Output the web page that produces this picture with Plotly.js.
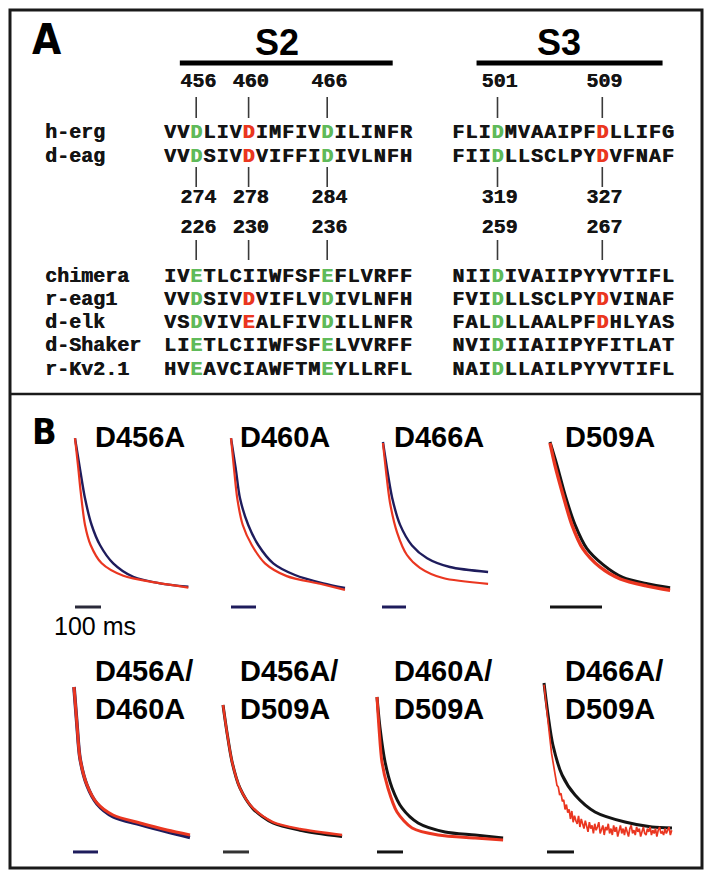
<!DOCTYPE html>
<html><head><meta charset="utf-8">
<script src="https://cdn.plot.ly/plotly-3.0.1.min.js"></script>
<style>html,body{margin:0;padding:0;background:#fff}#chart{width:712px;height:878px}</style>
</head><body><div id="chart"></div>
<script>
// ================= Panel A data =================
const seqNames = ['h-erg','d-eag','chimera','r-eag1','d-elk','d-Shaker','r-Kv2.1'];
const s2Seqs = ['VVDLIVDIMFIVDILINFR','VVDSIVDVIFFIDIVLNFH','IVETLCIIWFSFEFLVRFF','VVDSIVDVIFLVDIVLNFH','VSDVIVEALFIVDILLNFR','LIETLCIIWFSFELVVRFF','HVEAVCIAWFTMEYLLRFL'];
const s3Seqs = ['FLIDMVAAIPFDLLIFG','FIIDLLSCLPYDVFNAF','NIIDIVAIIPYYVTIFL','FVIDLLSCLPYDVINAF','FALDLLAALPFDHLYAS','NVIDIIAIIPYFITLAT','NAIDLLAILPYYVTIFL'];
const hergNums = ['456','460','466','501','509'];
const deagNums = ['274','278','284','319','327'];
const chimNums = ['226','230','236','259','267'];
const markedCols = [2, 6, 12, 25, 33];      // alignment columns of numbered residues
const conservedCols = [2, 12, 25];           // green residues
const variableCols = [6, 33];                // red when acidic (D/E)

// ================= Panel B data (time ms, normalised current) =================
const d456aBlueT = [0,19,38.5,64,96,147,224,327,436];
const d456aBlueI = [0.98,0.79,0.604,0.4375,0.3125,0.198,0.114,0.073,0.052];
const d456aRedT  = [0,12.8,21.8,38.5,60,102.6,186,314,436];
const d456aRedI  = [0.98,0.79,0.646,0.4375,0.3125,0.198,0.12,0.077,0.046];

const d460aBlueT = [0,19,36,69,109,169,256,369,456];
const d460aBlueI = [0.98,0.79,0.604,0.4375,0.3125,0.198,0.125,0.073,0.044];
const d460aRedT  = [0,12,25,47,83,136,223,356,456];
const d460aRedI  = [0.98,0.79,0.604,0.4375,0.3125,0.198,0.118,0.07,0.032];

const d466aBlueT = [4,21,42,75,125,188,283,442];
const d466aBlueI = [0.956,0.79,0.61,0.44,0.31,0.23,0.175,0.144];
const d466aRedT  = [4,17,33,63,104,158,254,442];
const d466aRedI  = [0.95,0.77,0.58,0.39,0.25,0.17,0.106,0.07];

const d509aBlackT = [0,13.5,29,48,71,102,140,187,231];
const d509aBlackI = [0.956,0.81,0.625,0.44,0.29,0.19,0.11,0.07,0.045];
const d509aRedT   = [0,9.6,25,42,63,96,135,187,231];
const d509aRedI   = [0.95,0.81,0.625,0.44,0.29,0.175,0.1,0.056,0.03];

const d456a460aT     = [4,16,28,56,96,160,268,376,468];
const d456a460aRedI  = [0.975,0.7375,0.53,0.3625,0.25,0.175,0.125,0.081,0.05];
const d456a460aBlueI = [0.975,0.7375,0.53,0.36,0.245,0.165,0.115,0.07,0.035];

const d456a509aT      = [0,15,35,65,115,192,296,458];
const d456a509aRedI   = [0.8625,0.694,0.506,0.344,0.219,0.131,0.0875,0.05];
const d456a509aBlackI = [0.8625,0.694,0.506,0.344,0.215,0.125,0.08,0.04];

const d460a509aBlackT = [0,11.5,31,58,96,158,262,377,485];
const d460a509aBlackI = [0.9125,0.72,0.506,0.344,0.219,0.125,0.069,0.05,0.031];
const d460a509aRedT   = [0,7.7,19,42,77,135,235,377,485];
const d460a509aRedI   = [0.9125,0.72,0.506,0.344,0.194,0.094,0.05,0.031,0.019];

const d466a509aBlackT = [0,15,33,67,115,189,300,400,474];
const d466a509aBlackI = [1.0,0.8,0.6125,0.425,0.3,0.194,0.131,0.1,0.094];
const d466a509aRedT = [0,8,15,22,28,33,38,43,48,53,58,63,68,73,78,83,88,93,98,103,108,113,118,123,128,133,138,143,148,153,158,163,168,173,178,183,188,193,198,203,208,213,218,223,228,233,238,243,248,253,258,263,268,273,278,283,288,293,298,303,308,313,318,323,328,333,338,343,348,353,358,363,368,373,378,383,388,393,398,403,408,413,418,423,428,433,438,443,448,453,458,463,468,473];
const d466a509aRedI = [0.99,0.88,0.78,0.65,0.56,0.50,0.44,0.41,0.36,0.35,0.30,0.31,0.26,0.27,0.21,0.24,0.19,0.21,0.15,0.20,0.13,0.17,0.14,0.12,0.17,0.10,0.15,0.12,0.09,0.14,0.11,0.07,0.13,0.09,0.11,0.06,0.12,0.08,0.10,0.13,0.06,0.09,0.11,0.05,0.10,0.08,0.12,0.06,0.09,0.05,0.11,0.07,0.10,0.04,0.08,0.11,0.06,0.09,0.05,0.10,0.07,0.04,0.09,0.11,0.06,0.08,0.05,0.10,0.07,0.09,0.04,0.08,0.10,0.06,0.05,0.09,0.07,0.10,0.05,0.08,0.06,0.09,0.04,0.08,0.10,0.06,0.07,0.05,0.09,0.06,0.08,0.10,0.05,0.08];

const scaleBarMs = 100;

// ================= Styles / layout constants =================
const W = 712, H = 878;
const GREEN = '#5fba5a', RED = '#ea3620', BLUE = '#1e1c5c', BLACK = '#141414';
const MONO = 'Liberation Mono, Courier New, DejaVu Sans Mono, monospace';
const SANS = 'Liberation Sans, Arial, Helvetica, sans-serif';
const NARROW = 'Liberation Sans Narrow, DejaVu Sans Condensed, Arial Narrow, sans-serif';
const COL0 = 170, COLW = 13.1;              // px of column 0 centre, px per column
const S3_OFFSET = 22;                        // column where S3 segment starts
const rowY = [133,157,277,300,323,346,370];  // px rows of sequences
const numRowY = [82,198,228];
const tickSpans = [[97,118],[167,187],[240,260]];
const labelX = -9.54;
const monoFont = (color)=>({family:MONO, size:20, color:color, weight:'bold', shadow:'0.6px 0 0 '+color});

const data = [];
// characters, grouped by colour
const groups = {};
[BLACK, GREEN, RED].forEach(c=>groups[c]={x:[],y:[],t:[]});
seqNames.forEach((n,r)=>{
  const full = s2Seqs[r] + ' '.repeat(S3_OFFSET - s2Seqs[r].length) + s3Seqs[r];
  for (let c=0;c<full.length;c++){
    const ch = full[c]; if (ch===' ') continue;
    let col = BLACK;
    if (conservedCols.includes(c)) col = GREEN;
    else if (variableCols.includes(c) && (ch==='D'||ch==='E')) col = RED;
    groups[col].x.push(c); groups[col].y.push(rowY[r]); groups[col].t.push(ch);
  }
});
Object.keys(groups).forEach(col=>{
  const g = groups[col];
  data.push({x:g.x, y:g.y, text:g.t, mode:'text', textposition:'middle center',
    textfont:monoFont(col), xaxis:'x', yaxis:'y', cliponaxis:false, hoverinfo:'skip'});
});
// names
data.push({x:seqNames.map(()=>labelX), y:rowY, text:seqNames, mode:'text',
  textposition:'middle right', textfont:monoFont(BLACK), xaxis:'x', yaxis:'y', cliponaxis:false, hoverinfo:'skip'});
// residue numbers
[hergNums, deagNums, chimNums].forEach((nums,k)=>{
  data.push({x:markedCols.map(c=>c+0.15), y:nums.map(()=>numRowY[k]), text:nums, mode:'text',
    textposition:'middle center', textfont:monoFont(BLACK), xaxis:'x', yaxis:'y', cliponaxis:false, hoverinfo:'skip'});
});
// tick lines
const tx=[], ty=[];
tickSpans.forEach(sp=>markedCols.forEach(c=>{tx.push(c,c,null); ty.push(sp[0],sp[1],null);}));
data.push({x:tx, y:ty, mode:'lines', line:{color:'#3a3a3a', width:1.6}, xaxis:'x', yaxis:'y', hoverinfo:'skip'});

const layout = {
  width:W, height:H, margin:{l:0,r:0,t:0,b:0}, paper_bgcolor:'#fff', plot_bgcolor:'rgba(0,0,0,0)',
  showlegend:false, hovermode:false,
  xaxis:{domain:[0,1], range:[(0-COL0)/COLW, (W-COL0)/COLW], visible:false, fixedrange:true},
  yaxis:{domain:[1-394/H, 1-10/H], range:[394,10], visible:false, fixedrange:true},
  shapes:[], annotations:[]
};
// border + divider
layout.shapes.push({type:'rect', xref:'paper', yref:'paper', x0:10/W, x1:702/W, y0:1-868/H, y1:1-10/H, line:{color:'#1a1a1a', width:3}});
layout.shapes.push({type:'line', xref:'paper', yref:'paper', x0:10/W, x1:702/W, y0:1-394/H, y1:1-394/H, line:{color:'#1a1a1a', width:2.5}});
// S2 / S3 bars
layout.shapes.push({type:'line', xref:'x', yref:'y', x0:0.75, x1:17.0, y0:63, y1:63, line:{color:'#000', width:5}});
layout.shapes.push({type:'line', xref:'x', yref:'y', x0:23.4, x1:37.6, y0:63, y1:63, line:{color:'#000', width:5}});
layout.annotations.push({xref:'x', yref:'y', x:8.2, y:43, text:'<b>S2</b>', showarrow:false, font:{family:SANS, size:36, color:'#000'}});
layout.annotations.push({xref:'x', yref:'y', x:29.7, y:43, text:'<b>S3</b>', showarrow:false, font:{family:SANS, size:36, color:'#000'}});
layout.annotations.push({xref:'paper', yref:'paper', x:30/W, y:1-40/H, xanchor:'left', yanchor:'middle', text:'<b>A</b>', showarrow:false, font:{family:NARROW, size:42, color:'#000'}});
layout.annotations.push({xref:'paper', yref:'paper', x:30/W, y:1-431/H, xanchor:'left', yanchor:'middle', text:'<b>B</b>', showarrow:false, font:{family:NARROW, size:36, color:'#000'}});
layout.annotations.push({xref:'paper', yref:'paper', x:52/W, y:1-626/H, xanchor:'left', yanchor:'middle', text:'100 ms', showarrow:false, font:{family:SANS, size:25, color:'#000'}});

// ================= Panel B subplots =================
const rowDom = [[427,611],[675,859]];
const Y_RANGE = [-0.1, 1.05];
const barY = [-0.075, -0.056];
const titleLeft = [93, 238, 392, 563];
const titleY = [437, 690];
const panels = [
  {title:'D456A', dom:[70,200], x0:75, ppm:0.26, row:0, barT:0, barColor:'#2a2a3a',
   traces:[[d456aBlueT,d456aBlueI,BLUE,2.4],[d456aRedT,d456aRedI,RED,2.2]]},
  {title:'D460A', dom:[225,355], x0:231, ppm:0.25, row:0, barT:0, barColor:BLUE,
   traces:[[d460aBlueT,d460aBlueI,BLUE,2.4],[d460aRedT,d460aRedI,RED,2.2]]},
  {title:'D466A', dom:[377,500], x0:382, ppm:0.24, row:0, barT:0, barColor:BLUE,
   traces:[[d466aBlueT,d466aBlueI,BLUE,2.4],[d466aRedT,d466aRedI,RED,2.2]]},
  {title:'D509A', dom:[545,678], x0:550, ppm:0.52, row:0, barT:0, barColor:BLACK,
   traces:[[d509aBlackT,d509aBlackI,BLACK,3],[d509aRedT,d509aRedI,RED,3.4]]},
  {title:'D456A/<br>D460A', dom:[68,200], x0:73, ppm:0.25, row:1, barT:0, barColor:BLUE,
   traces:[[d456a460aT,d456a460aBlueI,BLUE,3.6],[d456a460aT,d456a460aRedI,RED,3]]},
  {title:'D456A/<br>D509A', dom:[218,350], x0:223, ppm:0.26, row:1, barT:0, barColor:'#333',
   traces:[[d456a509aT,d456a509aBlackI,BLACK,3],[d456a509aT,d456a509aRedI,RED,2.4]]},
  {title:'D460A/<br>D509A', dom:[372,508], x0:377, ppm:0.26, row:1, barT:0, barColor:BLACK,
   traces:[[d460a509aBlackT,d460a509aBlackI,BLACK,3],[d460a509aRedT,d460a509aRedI,RED,3]]},
  {title:'D466A/<br>D509A', dom:[540,678], x0:544, ppm:0.27, row:1, barT:11, barColor:BLACK,
   traces:[[d466a509aBlackT,d466a509aBlackI,BLACK,3],[d466a509aRedT,d466a509aRedI,RED,1.7,'linear']]}
];
panels.forEach((p,k)=>{
  const n = k+2;
  const [d0,d1] = p.dom, [top,bot] = rowDom[p.row];
  layout['xaxis'+n] = {domain:[d0/W, d1/W], range:[(d0-p.x0)/p.ppm, (d1-p.x0)/p.ppm], visible:false, anchor:'y'+n, fixedrange:true};
  layout['yaxis'+n] = {domain:[1-bot/H, 1-top/H], range:Y_RANGE, visible:false, anchor:'x'+n, fixedrange:true};
  p.traces.forEach(tr=>{
    const shape = tr[4] || 'spline';
    data.push({x:tr[0], y:tr[1], xaxis:'x'+n, yaxis:'y'+n, mode:'lines', cliponaxis:false,
      line:{color:tr[2], width:tr[3], shape:shape, smoothing:0.8}, hoverinfo:'skip'});
  });
  data.push({x:[p.barT, p.barT+scaleBarMs], y:[barY[p.row], barY[p.row]], xaxis:'x'+n, yaxis:'y'+n, mode:'lines',
    line:{color:p.barColor, width:3}, hoverinfo:'skip', cliponaxis:false});
  layout.annotations.push({xref:'paper', yref:'paper', x:titleLeft[k%4]/W, y:1-titleY[p.row]/H, xanchor:'left', yanchor:'middle',
    align:'left', text:'<b>'+p.title+'</b>', showarrow:false, font:{family:SANS, size:29, color:'#000'}});
});

Plotly.newPlot('chart', data, layout, {staticPlot:true, displayModeBar:false});
</script></body></html>
